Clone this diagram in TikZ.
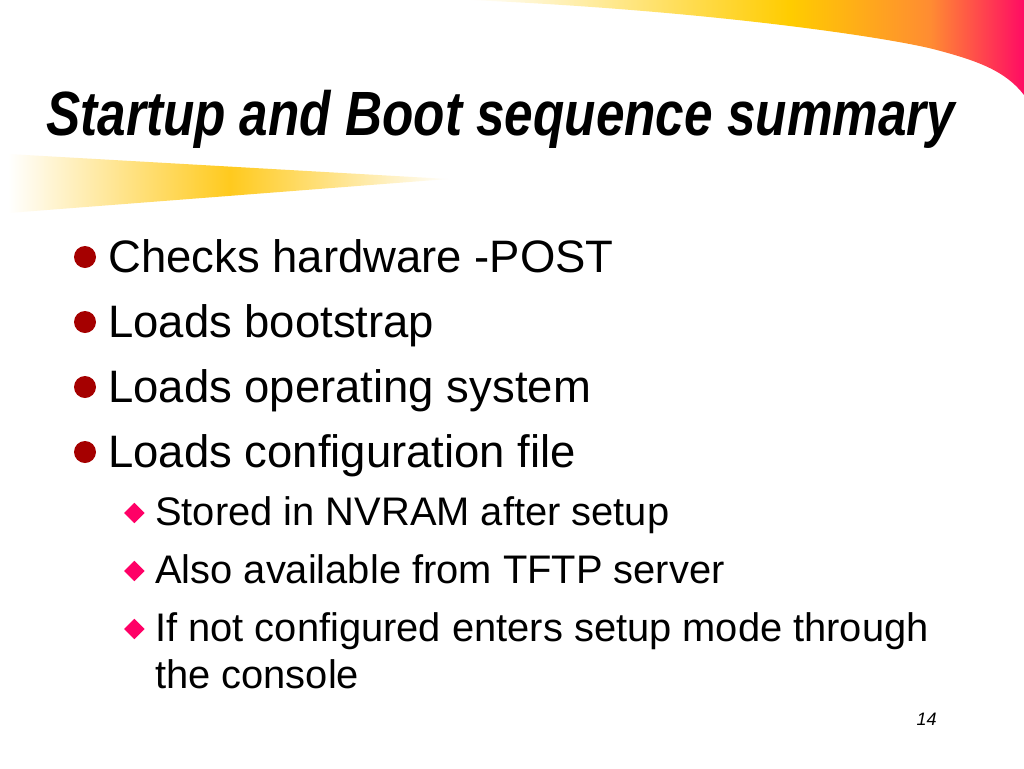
\documentclass[tikz,border=0pt]{standalone}
\usepackage{fontspec}
\setmainfont{Liberation Sans}
\newfontfamily\titlefont[FakeStretch=0.82]{Liberation Sans}
\usepackage{tikz}
\usetikzlibrary{shapes.geometric,positioning}
\definecolor{dotred}{RGB}{165,0,0}
\definecolor{gempink}{RGB}{255,0,102}
\definecolor{sunyellow}{RGB}{255,204,0}
\definecolor{sunorange}{RGB}{255,140,50}
\definecolor{sunpink}{RGB}{255,10,100}
\definecolor{baryellow}{RGB}{255,202,30}
\tikzstyle{bulletdot}=[circle,fill=dotred,minimum size=16.5pt,inner sep=0pt]
\tikzstyle{bulletgem}=[diamond,fill=gempink,minimum size=15.5pt,inner sep=0pt]
\tikzstyle{mainitem}=[anchor=base west,inner sep=0pt,font=\fontsize{34.1}{40}\selectfont]
\tikzstyle{subitem}=[anchor=base west,inner sep=0pt,font=\fontsize{29.9}{36}\selectfont]

\begin{document}
\begin{tikzpicture}[x=0.75pt,y=-0.75pt]
\useasboundingbox[fill=white] (0,0) rectangle (1024,768);

% swoosh top right
\begin{scope}
  \clip (470,0) -- (1024,0) -- (1024,95)
    .. controls (1005,70) and (975,60) .. (933,49)
    .. controls (880,36) and (700,10) .. (470,0) -- cycle;
  \shade[left color=white,right color=sunyellow] (470,-1) rectangle (790,100);
  \shade[left color=sunyellow,right color=sunorange] (790,-1) rectangle (930,100);
  \shade[left color=sunorange,right color=sunpink] (930,-1) rectangle (1025,100);
\end{scope}

% bar under the title
\begin{scope}
  \clip (8,154) -- (448,179) -- (8,213) -- cycle;
  \shade[left color=white,right color=baryellow] (8,150) rectangle (230,215);
  \shade[left color=baryellow,right color=white] (230,150) rectangle (450,215);
\end{scope}

\node[anchor=base west,inner sep=0pt,font=\titlefont\bfseries\itshape\fontsize{46.9}{52}\selectfont]
  (title) at (46,135) {Startup and Boot sequence summary};

\node[mainitem] (post) at (108,272) {Checks hardware -POST};
\node[mainitem] (boot) at (108,337) {Loads bootstrap};
\node[mainitem] (os) at (108,402) {Loads operating system};
\node[mainitem] (config) at (108,467) {Loads configuration file};
\node[bulletdot] at ([xshift=-17.25pt,yshift=11.25pt]post.base west) {};
\node[bulletdot] at ([xshift=-17.25pt,yshift=11.25pt]boot.base west) {};
\node[bulletdot] at ([xshift=-17.25pt,yshift=11.25pt]os.base west) {};
\node[bulletdot] at ([xshift=-17.25pt,yshift=11.25pt]config.base west) {};

\node[subitem] (nvram) at (155,525) {Stored in NVRAM after setup};
\node[subitem] (tftp) at (155,583) {Also available from TFTP server};
\node[subitem] (setup) at (155,641) {If not configured enters setup mode through};
\node[subitem] (console) at ([yshift=-35.25pt]setup.base west) {the console};
\node[bulletgem] at ([xshift=-15.5pt,yshift=9pt]nvram.base west) {};
\node[bulletgem] at ([xshift=-15.5pt,yshift=9pt]tftp.base west) {};
\node[bulletgem] at ([xshift=-15.5pt,yshift=9pt]setup.base west) {};

\node[anchor=base east,inner sep=0pt,font=\itshape\fontsize{13.5}{16}\selectfont]
  (page) at (937,725) {14};
\end{tikzpicture}
\end{document}
